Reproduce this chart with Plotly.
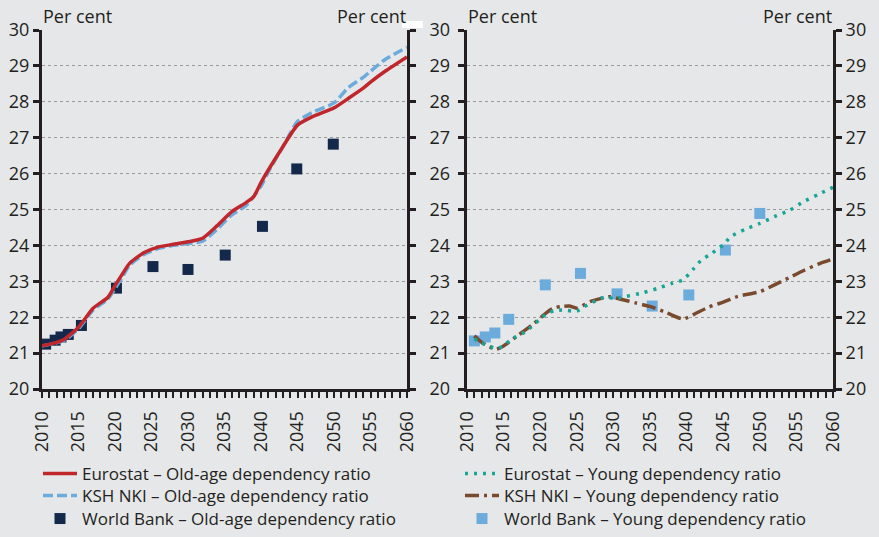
import plotly.graph_objects as go

# Old-age dependency ratio (left panel)
euro_old_years = [2010, 2012, 2013, 2015, 2017, 2019, 2020, 2021, 2022, 2024, 2026, 2028, 2030,
                  2032, 2034, 2036, 2038, 2039, 2040, 2041, 2043, 2045, 2047, 2050, 2052, 2054,
                  2055, 2057, 2060]
euro_old = [21.2, 21.3, 21.38, 21.72, 22.25, 22.55, 22.88, 23.2, 23.5, 23.8, 23.96, 24.03, 24.1,
            24.2, 24.55, 24.94, 25.2, 25.36, 25.75, 26.1, 26.75, 27.35, 27.58, 27.83, 28.1, 28.38,
            28.55, 28.85, 29.25]

ksh_old_years = [2010, 2013, 2015, 2017, 2019, 2020, 2021, 2022, 2024, 2026, 2028, 2030, 2032,
                 2034, 2036, 2038, 2040, 2041, 2043, 2045, 2047, 2050, 2052, 2054, 2055, 2057, 2060]
ksh_old = [21.2, 21.35, 21.68, 22.2, 22.5, 22.8, 23.12, 23.45, 23.75, 23.92, 24.0, 24.05, 24.12,
           24.45, 24.85, 25.12, 25.65, 26.05, 26.75, 27.45, 27.7, 27.97, 28.4, 28.68, 28.85, 29.18, 29.52]

wb_old_x = [2010.5, 2011.8, 2012.6, 2013.6, 2015.4, 2020.2, 2025.2, 2030.0, 2035.1, 2040.2, 2044.9, 2049.9]
wb_old = [21.25, 21.36, 21.45, 21.52, 21.77, 22.81, 23.41, 23.33, 23.73, 24.53, 26.13, 26.82]

# Young dependency ratio (right panel)
euro_young_years = [2011, 2012, 2014, 2015, 2016, 2018, 2020, 2021, 2022, 2023, 2025, 2026, 2028,
                    2029, 2030, 2031, 2034, 2036, 2038, 2039.5, 2041, 2042, 2043, 2045, 2046, 2048,
                    2050, 2052, 2054, 2056, 2058, 2060]
euro_young = [21.4, 21.28, 21.13, 21.2, 21.38, 21.6, 21.95, 22.12, 22.18, 22.2, 22.17, 22.29, 22.5,
              22.57, 22.52, 22.55, 22.68, 22.8, 22.94, 23.04, 23.36, 23.59, 23.72, 24.01, 24.24, 24.45,
              24.61, 24.8, 24.97, 25.22, 25.42, 25.62]

ksh_young_years = [2011, 2012, 2013, 2014, 2015, 2017, 2019, 2021, 2022, 2023, 2024, 2025, 2027,
                   2029.5, 2031, 2033, 2035, 2037, 2039.5, 2041, 2043, 2045, 2047, 2050, 2052, 2054,
                   2056, 2058, 2060]
ksh_young = [21.48, 21.3, 21.18, 21.11, 21.2, 21.5, 21.8, 22.15, 22.27, 22.3, 22.31, 22.25, 22.45,
             22.57, 22.5, 22.4, 22.3, 22.15, 21.95, 22.08, 22.28, 22.42, 22.58, 22.71, 22.9, 23.1,
             23.3, 23.48, 23.62]

wb_young_x = [2011, 2012.5, 2013.8, 2015.7, 2020.7, 2025.5, 2030.5, 2035.3, 2040.3, 2045.3, 2050]
wb_young = [21.34, 21.45, 21.56, 21.94, 22.9, 23.22, 22.65, 22.31, 22.62, 23.87, 24.89]

W, H = 879, 537
BG = '#e6e7e9'
INK = '#231f20'
FONT = 'Open Sans'

fig = go.Figure()

# left panel: squares first, then KSH, then Eurostat on top
fig.add_trace(go.Scatter(
    x=wb_old_x, y=wb_old, mode='markers', name='World Bank – Old-age dependency ratio',
    marker=dict(symbol='square', size=11, color='#14284b'), cliponaxis=False,
    legend='legend3'))
fig.add_trace(go.Scatter(
    x=ksh_old_years, y=ksh_old, mode='lines', name='KSH NKI – Old-age dependency ratio',
    line=dict(color='#6cacdc', width=3.5, dash='10px,4px', shape='spline', smoothing=0.6),
    legend='legend2'))
fig.add_trace(go.Scatter(
    x=euro_old_years, y=euro_old, mode='lines', name='Eurostat – Old-age dependency ratio',
    line=dict(color='#c0272d', width=3.5, shape='spline', smoothing=0.6),
    legend='legend'))

# right panel
fig.add_trace(go.Scatter(
    x=wb_young_x, y=wb_young, mode='markers', name='World Bank – Young dependency ratio',
    marker=dict(symbol='square', size=11, color='#6cacdc'), cliponaxis=False,
    xaxis='x2', yaxis='y2', legend='legend6'))
fig.add_trace(go.Scatter(
    x=ksh_young_years, y=ksh_young, mode='lines', name='KSH NKI – Young dependency ratio',
    line=dict(color='#7a4a2e', width=3.5, dash='14px,5px,3px,5px', shape='spline', smoothing=0.6),
    xaxis='x2', yaxis='y2', legend='legend5'))
fig.add_trace(go.Scatter(
    x=euro_young_years, y=euro_young, mode='lines', name='Eurostat – Young dependency ratio',
    line=dict(color='#17a595', width=3.5, dash='3px,6px', shape='spline', smoothing=0.6),
    xaxis='x2', yaxis='y2', legend='legend4'))

# invisible trace so the middle label axis gets drawn
fig.add_trace(go.Scatter(
    x=wb_young_x[:1], y=wb_young[:1], mode='markers', marker=dict(opacity=0),
    xaxis='x2', yaxis='y3', showlegend=False, hoverinfo='skip'))

xdom1 = [42 / W, 407 / W]
xdom2 = [467 / W, 833 / W]
ydom = [(H - 389) / H, (H - 30) / H]

xcommon = dict(
    range=[2010, 2060], dtick=5, tickangle=-90, showgrid=False, zeroline=False, automargin=False,
    showline=True, linewidth=3, linecolor=INK, ticks='outside', ticklen=6, tickwidth=2,
    tickcolor=INK, tickfont=dict(size=18, color=INK, family=FONT), ticklabelstandoff=6,
    minor=dict(dtick=1, ticks='outside', ticklen=6, tickwidth=2, tickcolor=INK),
)
ycommon = dict(
    range=[20, 30], dtick=1, showgrid=True, gridcolor='#9a9a9a', griddash='dot', gridwidth=1,
    zeroline=False, showline=True, linewidth=3, linecolor=INK, mirror='ticks', automargin=False,
    ticks='outside', ticklen=6, tickwidth=3, tickcolor=INK,
    tickfont=dict(size=18, color=INK, family=FONT),
)

# one legend per row so the row spacing can follow the reference;
# bottom-anchored so no legend box reaches past the page and pushes the margins
legend_bottoms = [492, 514, 537]
legends = {}
for col, lx in enumerate([38, 460]):
    for row, ly in enumerate(legend_bottoms):
        key = 'legend' if col == 0 and row == 0 else f'legend{col * 3 + row + 1}'
        legends[key] = dict(x=lx / W, y=(H - ly) / H, xanchor='left', yanchor='bottom',
                            bgcolor='rgba(0,0,0,0)', itemwidth=34,
                            font=dict(size=17, color=INK, family=FONT))

fig.update_layout(
    width=W, height=H,
    margin=dict(l=0, r=0, t=0, b=0),
    paper_bgcolor=BG, plot_bgcolor=BG,
    font=dict(family=FONT, color=INK),
    xaxis=dict(domain=xdom1, anchor='y', **xcommon),
    yaxis=dict(domain=ydom, anchor='x', side='left', **ycommon),
    xaxis2=dict(domain=xdom2, anchor='y2', **xcommon),
    yaxis2=dict(domain=ydom, anchor='x2', side='right', **ycommon),
    yaxis3=dict(range=[20, 30], dtick=1, overlaying='y2', anchor='x2', side='left',
                showgrid=False, zeroline=False, showline=False, ticks='', automargin=False,
                ticklabelstandoff=16, tickfont=dict(size=18, color=INK, family=FONT)),
    **legends,
)

# "Per cent" unit labels
for xp, anchor in [(41, 'left'), (408, 'right'), (466, 'left'), (834, 'right')]:
    fig.add_annotation(x=xp / W, y=(H - 16) / H, xref='paper', yref='paper',
                       text='Per cent', showarrow=False, xanchor=anchor, yanchor='middle',
                       font=dict(size=18, color=INK, family=FONT))

# small white patch next to the right unit label
fig.add_shape(type='rect', xref='paper', yref='paper',
              x0=402 / W, x1=423 / W, y0=(H - 28) / H, y1=(H - 21) / H,
              fillcolor='white', line=dict(width=0))

fig.write_html("out.html", config={'displayModeBar': False},
               post_script="document.body.style.margin='0';")
